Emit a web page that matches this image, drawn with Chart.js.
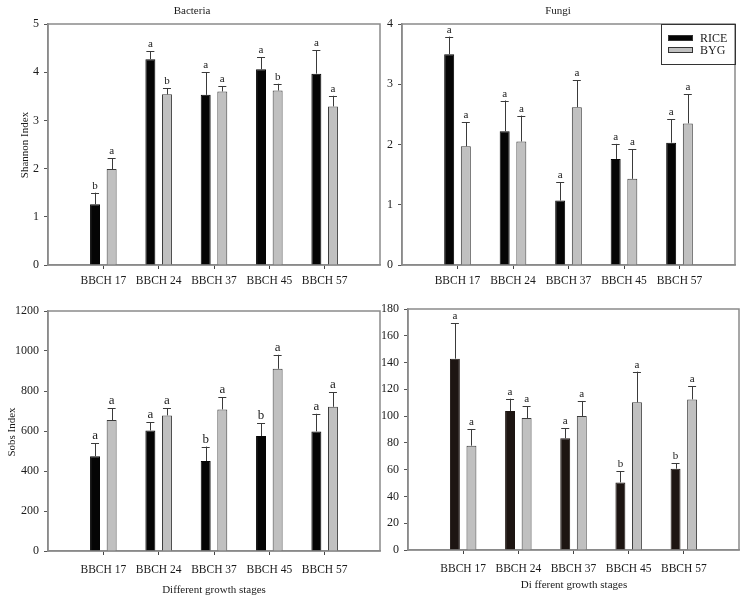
<!DOCTYPE html>
<html><head><meta charset="utf-8">
<script src="https://cdn.jsdelivr.net/npm/chart.js@4.4.0/dist/chart.umd.min.js"></script>
<style>
html,body{margin:0;padding:0;background:#fff;width:747px;height:604px;overflow:hidden}
canvas{position:absolute}
</style></head><body>
<canvas id="c1" width="400" height="300" style="left:0px;top:0px"></canvas>
<canvas id="c2" width="377" height="300" style="left:370px;top:0px"></canvas>
<canvas id="c3" width="400" height="314" style="left:0px;top:290px"></canvas>
<canvas id="c4" width="377" height="314" style="left:370px;top:290px"></canvas>
<script>
// ---- data ----
const categories = ['BBCH 17', 'BBCH 24', 'BBCH 37', 'BBCH 45', 'BBCH 57'];
const seriesNames = ['RICE', 'BYG'];

const shannonBacRice    = [1.26, 4.27, 3.53, 4.06, 3.97];
const shannonBacRiceErr = [0.24, 0.16, 0.47, 0.25, 0.49];
const shannonBacRiceLet = ['b', 'a', 'a', 'a', 'a'];
const shannonBacByg     = [1.99, 3.54, 3.60, 3.62, 3.29];
const shannonBacBygErr  = [0.22, 0.13, 0.11, 0.14, 0.22];
const shannonBacBygLet  = ['a', 'b', 'a', 'b', 'a'];

const shannonFunRice    = [3.50, 2.22, 1.07, 1.76, 2.03];
const shannonFunRiceErr = [0.29, 0.51, 0.30, 0.25, 0.39];
const shannonFunRiceLet = ['a', 'a', 'a', 'a', 'a'];
const shannonFunByg     = [1.97, 2.05, 2.62, 1.43, 2.35];
const shannonFunBygErr  = [0.40, 0.43, 0.45, 0.49, 0.48];
const shannonFunBygLet  = ['a', 'a', 'a', 'a', 'a'];

const sobsBacRice    = [474, 603, 450, 575, 598];
const sobsBacRiceErr = [64, 42, 72, 63, 88];
const sobsBacRiceLet = ['a', 'a', 'b', 'b', 'a'];
const sobsBacByg     = [655, 678, 708, 911, 721];
const sobsBacBygErr  = [60, 37, 60, 70, 72];
const sobsBacBygLet  = ['a', 'a', 'a', 'a', 'a'];

const sobsFunRice    = [142.9, 103.8, 83.4, 50.5, 60.7];
const sobsFunRiceErr = [26.6, 9.2, 7.7, 8.5, 4.0];
const sobsFunRiceLet = ['a', 'a', 'a', 'b', 'b'];
const sobsFunByg     = [77.9, 98.6, 100.1, 110.3, 112.5];
const sobsFunBygErr  = [12.5, 8.7, 11.2, 22.9, 9.7];
const sobsFunBygLet  = ['a', 'a', 'a', 'a', 'a'];

const shannonBacTicks = {max: 5, step: 1};
const shannonFunTicks = {max: 4, step: 1};
const sobsBacTicks    = {max: 1200, step: 200};
const sobsFunTicks    = {max: 180, step: 20};

// ---- rendering ----
const SERIF = "'Liberation Serif', 'Times New Roman', serif";
const AXIS = '#8a8a8a';
const TXT = '#1a1a1a';
const labels = [''].concat(categories, ['']);
const pad = arr => [null].concat(arr, [null]);

const framePlugin = {
  id: 'frame',
  beforeDatasetsDraw(chart) {
    const a = chart.chartArea, c = chart.ctx;
    c.save();
    c.strokeStyle = AXIS; c.lineWidth = 1.5;
    c.strokeRect(a.left, a.top, a.right - a.left, a.bottom - a.top);
    c.restore();
  }
};

const errorPlugin = {
  id: 'errbars',
  afterDatasetsDraw(chart, args, opts) {
    const c = chart.ctx, y = chart.scales.y;
    chart.data.datasets.forEach((ds, di) => {
      const meta = chart.getDatasetMeta(di);
      meta.data.forEach((bar, i) => {
        const v = ds.data[i];
        if (v === null || v === undefined) return;
        const e = ds.errors[i];
        const top = y.getPixelForValue(v + e);
        c.save();
        c.strokeStyle = '#3a3a3a'; c.lineWidth = 1;
        c.beginPath();
        c.moveTo(Math.round(bar.x) + 0.5, bar.y);
        c.lineTo(Math.round(bar.x) + 0.5, top);
        c.moveTo(bar.x - 4, Math.round(top) + 0.5);
        c.lineTo(bar.x + 4, Math.round(top) + 0.5);
        c.stroke();
        c.fillStyle = TXT;
        c.font = opts.letterSize + 'px ' + SERIF;
        c.textAlign = 'center'; c.textBaseline = 'alphabetic';
        c.fillText(ds.letters[i], bar.x, top - 4);
        c.restore();
      });
    });
  }
};

const textPlugin = {
  id: 'panelText',
  afterDraw(chart, args, opts) {
    const c = chart.ctx;
    (opts.items || []).forEach(it => {
      c.save();
      c.fillStyle = TXT;
      c.font = (it.size || 11) + 'px ' + SERIF;
      c.textAlign = 'center'; c.textBaseline = 'middle';
      c.translate(it.x, it.y);
      if (it.rot) c.rotate(it.rot);
      c.fillText(it.text, 0, 0);
      c.restore();
    });
    const lg = opts.legend;
    if (lg) {
      c.save();
      c.strokeStyle = '#333'; c.lineWidth = 1;
      c.strokeRect(lg.x + 0.5, lg.y + 0.5, lg.w, lg.h);
      chart.data.datasets.forEach((ds, i) => {
        const yy = lg.y + 11 + i * 12;
        c.fillStyle = ds.backgroundColor;
        c.fillRect(lg.x + 7, yy, 25, 6);
        c.strokeStyle = '#333';
        c.strokeRect(lg.x + 7.5, yy + 0.5, 24, 5);
        c.fillStyle = TXT;
        c.font = '12px ' + SERIF;
        c.textAlign = 'left'; c.textBaseline = 'middle';
        c.fillText(ds.label, lg.x + 39, yy + 3.5);
      });
      c.restore();
    }
  }
};

function makePanel(id, p) {
  const n = labels.length;
  new Chart(document.getElementById(id), {
    type: 'bar',
    data: {
      labels: labels,
      datasets: [
        {label: seriesNames[0], data: pad(p.rice), errors: pad(p.riceErr), letters: pad(p.riceLet),
         backgroundColor: p.riceColor, borderColor: p.riceColor, borderWidth: 1,
         categoryPercentage: 0.6, barPercentage: 0.6},
        {label: seriesNames[1], data: pad(p.byg), errors: pad(p.bygErr), letters: pad(p.bygLet),
         backgroundColor: '#c0c0c0', borderColor: '#3c3c3c', borderWidth: 1,
         categoryPercentage: 0.6, barPercentage: 0.6}
      ]
    },
    options: {
      responsive: false, animation: false, devicePixelRatio: 1,
      layout: {padding: {top: p.padTop, right: p.padRight, left: 0, bottom: 0}},
      plugins: {
        legend: {display: false}, tooltip: {enabled: false},
        errbars: {letterSize: p.letterSize},
        panelText: {items: p.texts, legend: p.legend}
      },
      scales: {
        x: {
          type: 'category', offset: false,
          ticks: {autoSkip: false, maxRotation: 0, minRotation: 0, color: TXT,
                  font: {family: SERIF, size: 11.5}, padding: p.xPad},
          grid: {offset: false, drawOnChartArea: false, drawTicks: true, tickLength: 4,
                 tickColor: ctx => (ctx.index === 0 || ctx.index === n - 1) ? 'rgba(0,0,0,0)' : '#444'},
          border: {color: AXIS, width: 1.5},
          afterFit(s) { s.height = p.xH; }
        },
        y: {
          min: 0, max: p.ticks.max,
          ticks: {stepSize: p.ticks.step, color: TXT, font: {family: SERIF, size: 12}, padding: 5,
                  callback: v => String(v)},
          grid: {drawOnChartArea: false, drawTicks: true, tickLength: 4, tickColor: '#555'},
          border: {color: AXIS, width: 1.5},
          afterFit(s) { s.width = p.yW; }
        }
      }
    },
    plugins: [framePlugin, errorPlugin, textPlugin]
  });
}

makePanel('c1', {
  rice: shannonBacRice, riceErr: shannonBacRiceErr, riceLet: shannonBacRiceLet,
  byg: shannonBacByg, bygErr: shannonBacBygErr, bygLet: shannonBacBygLet,
  riceColor: '#050505', ticks: shannonBacTicks, yW: 48, xH: 35, padTop: 24, padRight: 20,
  xPad: 5, letterSize: 11,
  texts: [{text: 'Bacteria', x: 192, y: 11}, {text: 'Shannon Index', x: 25, y: 145, rot: -Math.PI / 2}]
});
makePanel('c2', {
  rice: shannonFunRice, riceErr: shannonFunRiceErr, riceLet: shannonFunRiceLet,
  byg: shannonFunByg, bygErr: shannonFunBygErr, bygLet: shannonFunBygLet,
  riceColor: '#050505', ticks: shannonFunTicks, yW: 32, xH: 35, padTop: 24, padRight: 12,
  xPad: 5, letterSize: 11,
  texts: [{text: 'Fungi', x: 188, y: 11}],
  legend: {x: 291, y: 24, w: 74, h: 40}
});
makePanel('c3', {
  rice: sobsBacRice, riceErr: sobsBacRiceErr, riceLet: sobsBacRiceLet,
  byg: sobsBacByg, bygErr: sobsBacBygErr, bygLet: sobsBacBygLet,
  riceColor: '#050505', ticks: sobsBacTicks, yW: 48, xH: 53, padTop: 21, padRight: 20,
  xPad: 8, letterSize: 13,
  texts: [{text: 'Sobs Index', x: 12, y: 142, rot: -Math.PI / 2}, {text: 'Different growth stages', x: 214, y: 300}]
});
makePanel('c4', {
  rice: sobsFunRice, riceErr: sobsFunRiceErr, riceLet: sobsFunRiceLet,
  byg: sobsFunByg, bygErr: sobsFunBygErr, bygLet: sobsFunBygLet,
  riceColor: '#1d1512', ticks: sobsFunTicks, yW: 38, xH: 54, padTop: 19, padRight: 6,
  xPad: 8, letterSize: 11,
  texts: [{text: 'Di fferent growth stages', x: 204, y: 295}]
});
</script>
</body></html>
